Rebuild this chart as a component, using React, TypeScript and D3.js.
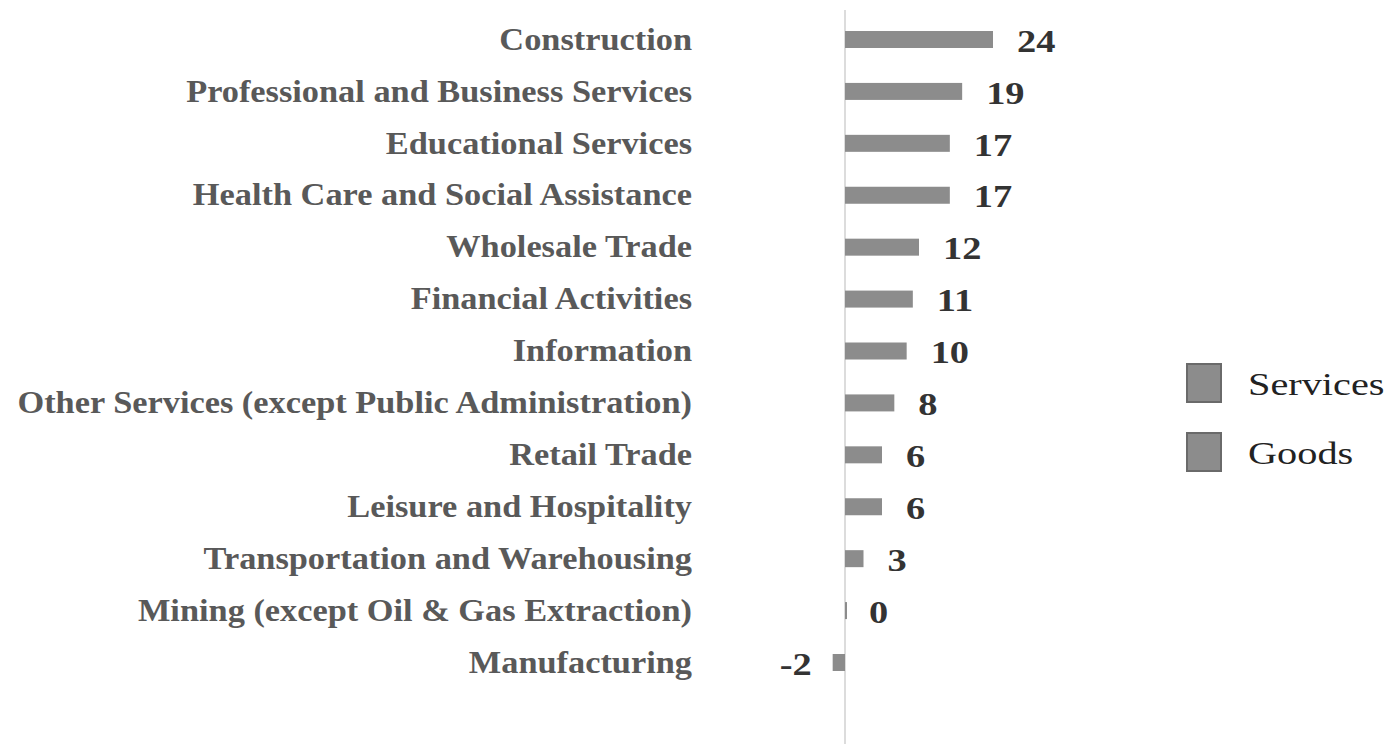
import * as d3 from "d3";

const categories = [
  "Construction",
  "Professional and Business Services",
  "Educational Services",
  "Health Care and Social Assistance",
  "Wholesale Trade",
  "Financial Activities",
  "Information",
  "Other Services (except Public Administration)",
  "Retail Trade",
  "Leisure and Hospitality",
  "Transportation and Warehousing",
  "Mining (except Oil & Gas Extraction)",
  "Manufacturing",
];
const values = [24, 19, 17, 17, 12, 11, 10, 8, 6, 6, 3, 0, -2];
const legendItems = ["Services", "Goods"];

const width = 1391;
const height = 744;
const serif = "'Liberation Serif', 'DejaVu Serif', serif";
const barColor = "#8c8c8c";
// the source image is stretched sideways, so glyphs are widened too
const labelStretch = 1.108;
const valueStretch = 1.2;
const legendStretch = 1.3;

export default function App() {
  const x = d3.scaleLinear().domain([0, 24]).range([845, 993]);
  const y = d3.scalePoint<string>().domain(categories).range([39.5, 662.5]);
  const barH = 17;

  return (
    <svg
      width={width}
      height={height}
      style={{ position: "absolute", left: 0, top: 0, background: "#fff" }}
    >
      <line x1={x(0)} x2={x(0)} y1={10} y2={height} stroke="#d0d0d0" strokeWidth={1.5} />
      {categories.map((c, i) => {
        const v = values[i];
        const cy = y(c)!;
        const x0 = Math.min(x(0), x(v));
        const w = Math.max(Math.abs(x(v) - x(0)), 2);
        const vx = v < 0 ? x(v) - 21 : x(v) + 24;
        return (
          <g key={c}>
            <text
              transform={`translate(692,${cy}) scale(${labelStretch},1)`}
              dy="0.33em"
              textAnchor="end"
              fontFamily={serif}
              fontWeight="bold"
              fontSize={31}
              fill="#595959"
            >
              {c}
            </text>
            <rect x={x0} y={cy - barH / 2} width={w} height={barH} fill={barColor} />
            <text
              transform={`translate(${vx},${cy + 1}) scale(${valueStretch},1)`}
              dy="0.35em"
              textAnchor={v < 0 ? "end" : "start"}
              fontFamily={serif}
              fontWeight="bold"
              fontSize={32}
              fill="#333"
            >
              {v}
            </text>
          </g>
        );
      })}
      {legendItems.map((s, i) => (
        <g key={s} transform={`translate(1187,${364 + i * 69})`}>
          <rect width={34} height={38} fill={barColor} stroke="#6a6a6a" strokeWidth={2} />
          <text
            transform={`translate(61,31) scale(${legendStretch},1)`}
            fontFamily={serif}
            fontSize={31}
            fill="#222"
          >
            {s}
          </text>
        </g>
      ))}
    </svg>
  );
}
